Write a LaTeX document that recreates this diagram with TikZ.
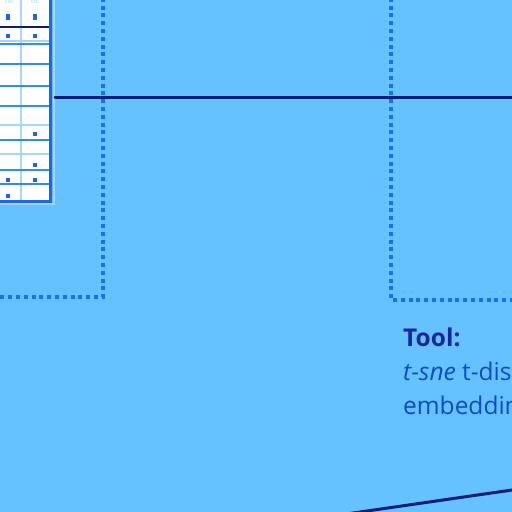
\documentclass[tikz,border=0pt]{standalone}
\usepackage{fontspec}
\setmainfont{Open Sans}
\usepackage{xcolor}
\usepackage{tikz}
\usetikzlibrary{calc}
\definecolor{bg}{HTML}{66C2FF}
\definecolor{grid}{HTML}{2E8BF0}
\definecolor{gridlight}{HTML}{A4D6FF}
\definecolor{frame}{HTML}{1A66EE}
\definecolor{navy}{HTML}{0B1F7A}
\definecolor{dots}{HTML}{1B6FF0}
\definecolor{title}{HTML}{18289A}
\definecolor{body}{HTML}{0D4BCC}
\tikzset{
  cell/.style={fill=white, draw=none},
  hline/.style={draw=grid, line width=1.8pt},
  lline/.style={draw=gridlight, line width=1.8pt},
  border/.style={draw=frame, line width=3pt},
  cellmark/.style={fill=frame, draw=none, minimum width=3.5pt, minimum height=4pt, inner sep=0pt},
  link/.style={draw=navy, line width=3pt, line cap=round},
  dotbox/.style={draw=dots, line width=4pt, dash pattern=on 4pt off 3.8pt},
  lab/.style={text=body, font=\fontsize{24.5}{34}\selectfont, align=left, inner sep=0pt},
}
\begin{document}
\begin{tikzpicture}[x=1pt,y=-1pt]
  \useasboundingbox (0,0) rectangle (512,512);
  \clip (0,0) rectangle (512,512);
  \fill[bg] (0,0) rectangle (512,512);
  % table
  \fill[cell] (-10,-10) rectangle (50,201);
  \draw[gridlight, line width=2pt] (21,-10) -- (21,201);
  \foreach \y in {44,64,86,106,140,170,184} \draw[hline] (-10,\y) -- (50,\y);
  \foreach \y in {41,125,154} \draw[lline] (-10,\y) -- (50,\y);
  \draw[navy, line width=2pt] (-10,26.5) -- (50,26.5);
  \draw[gridlight, line width=2pt] (-10,203.5) -- (53.5,203.5) -- (53.5,-10);
  \draw[border] (-10,201) -- (50.5,201) -- (50.5,-10);
  \node[text=gridlight, font=\fontsize{6}{6}\selectfont, inner sep=0pt] (h1) at (9,1) {col};
  \node[text=gridlight, font=\fontsize{6}{6}\selectfont, inner sep=0pt] (h2) at (35,1) {col};
  \node[cellmark, minimum height=6.5pt] (m1) at (8,17) {};
  \node[cellmark, minimum height=6.5pt] (m2) at (35,17) {};
  \node[cellmark] (m3) at (8,36) {};
  \node[cellmark] (m4) at (35,36) {};
  \node[cellmark] (m5) at (35,134) {};
  \node[cellmark] (m6) at (35,165) {};
  \node[cellmark] (m7) at (8,180) {};
  \node[cellmark] (m8) at (35,180) {};
  \node[cellmark] (m9) at (8,196) {};
  % dotted groups
  \draw[dotbox] (103,-10) |- (-10,297);
  \draw[dotbox] (391,-10) |- (530,300);
  % links
  \coordinate (tblE) at (55,97);
  \coordinate (outR) at (530,97);
  \draw[link] (tblE) -- (outR);
  \coordinate (diagA) at (340,514.9);
  \coordinate (diagB) at (530,487.4);
  \draw[link] (diagA) -- (diagB);
  % tool text
  \node[lab, anchor=base west] (tool) at (403,414) {\textcolor{title}{\textbf{Tool:}}\\
    \textit{t-sne} t-distributed stochastic neighbor\\
    embedding};
\end{tikzpicture}
\end{document}
